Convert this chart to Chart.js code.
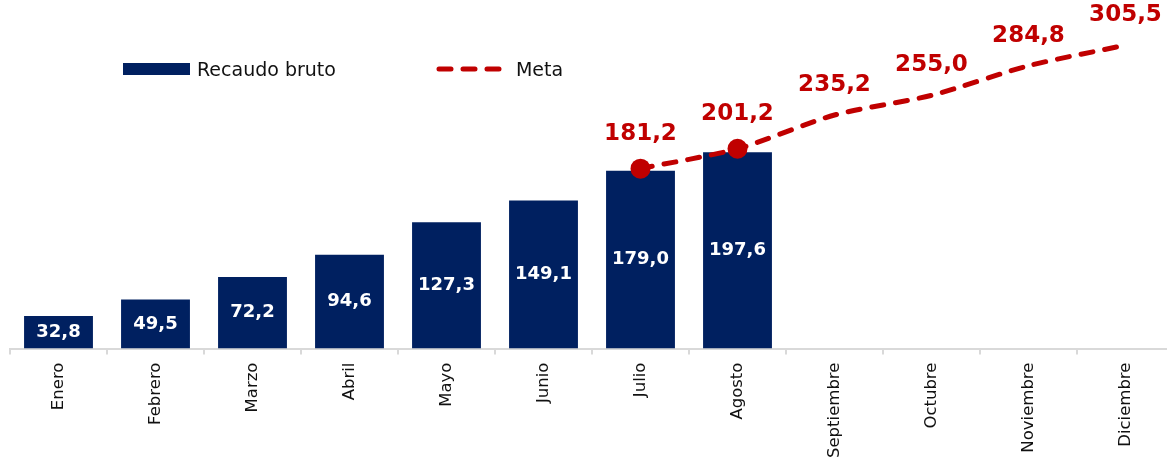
<!DOCTYPE html>
<html>
<head>
<meta charset="utf-8">
<script src="https://cdn.jsdelivr.net/npm/chart.js@4.4.1/dist/chart.umd.min.js"></script>
<style>
  html, body { margin: 0; padding: 0; background: #fff; overflow: hidden; }
  #wrap { position: relative; width: 1176px; height: 466px; }
  #legend {
    position: absolute; left: 123px; top: 58px;
    display: flex; align-items: center;
    font-family: "DejaVu Sans", Verdana, sans-serif; font-size: 19px; color: #111;
  }
  .item { display: flex; align-items: center; }
  .box { width: 67px; height: 12px; background: #002060; margin-right: 7px; }
  .dash { margin-right: 13px; }
</style>
</head>
<body>
<div id="wrap">
  <canvas id="chart"></canvas>
  <div id="legend">
    <div class="item" style="margin-right:100px"><span class="box"></span><span>Recaudo bruto</span></div>
    <div class="item">
      <svg class="dash" width="67" height="12"><line x1="3" y1="6" x2="64" y2="6" stroke="#C00000" stroke-width="5" stroke-linecap="round" stroke-dasharray="12 12"/></svg>
      <span>Meta</span>
    </div>
  </div>
</div>
<script>
const months = ["Enero", "Febrero", "Marzo", "Abril", "Mayo", "Junio", "Julio", "Agosto",
                "Septiembre", "Octubre", "Noviembre", "Diciembre"];
const recaudo = [32.8, 49.5, 72.2, 94.6, 127.3, 149.1, 179.0, 197.6, null, null, null, null];
const meta = [null, null, null, null, null, null, 181.2, 201.2, 235.2, 255.0, 284.8, 305.5];
const metaMarkers = [0, 0, 0, 0, 0, 0, 10, 10, 0, 0, 0, 0];

const fmt = v => v.toFixed(1).replace(".", ",");

// draws the value labels on bars and above the line
const valueLabels = {
  id: "valueLabels",
  afterDatasetsDraw(chart) {
    const ctx = chart.ctx;
    ctx.save();
    ctx.textAlign = "center";
    ctx.textBaseline = "middle";

    chart.getDatasetMeta(0).data.forEach((bar, i) => {
      const v = recaudo[i];
      if (v == null) return;
      ctx.font = "bold 18px 'DejaVu Sans', Verdana, sans-serif";
      ctx.fillStyle = "#ffffff";
      ctx.fillText(fmt(v), bar.x, (bar.y + bar.base) / 2);
    });

    chart.getDatasetMeta(1).data.forEach((pt, i) => {
      const v = meta[i];
      if (v == null) return;
      const lift = metaMarkers[i] ? 35 : 30;
      ctx.font = "bold 23px 'DejaVu Sans', Verdana, sans-serif";
      ctx.fillStyle = "#C00000";
      ctx.fillText(fmt(v), pt.x, pt.y - lift);
    });
    ctx.restore();
  }
};

new Chart(document.getElementById("chart"), {
  type: "bar",
  data: {
    labels: months,
    datasets: [
      {
        type: "bar",
        label: "Recaudo bruto",
        data: recaudo,
        backgroundColor: "#002060",
        barPercentage: 0.71,
        categoryPercentage: 1,
        order: 2
      },
      {
        type: "line",
        label: "Meta",
        data: meta,
        borderColor: "#C00000",
        backgroundColor: "#C00000",
        borderWidth: 5,
        borderDash: [12, 12],
        borderCapStyle: "round",
        tension: 0.25,
        pointRadius: metaMarkers,
        pointHoverRadius: metaMarkers,
        pointBackgroundColor: "#C00000",
        pointBorderWidth: 0,
        order: 1
      }
    ]
  },
  options: {
    responsive: true,
    maintainAspectRatio: false,
    animation: false,
    layout: { padding: { left: 10, right: 2, top: 0, bottom: 0 } },
    plugins: {
      legend: { display: false },
      tooltip: { enabled: false }
    },
    scales: {
      x: {
        offset: true,
        grid: {
          offset: true,
          drawOnChartArea: false,
          drawTicks: true,
          tickLength: 6,
          color: "#d9d9d9",
          lineWidth: 2
        },
        border: { display: true, color: "#d9d9d9", width: 2 },
        ticks: {
          minRotation: 90,
          maxRotation: 90,
          padding: 8,
          color: "#111",
          font: { family: "'DejaVu Sans', Verdana, sans-serif", size: 16.5 }
        }
      },
      y: {
        display: false,
        min: 0,
        max: 351
      }
    }
  },
  plugins: [valueLabels]
});
</script>
</body>
</html>
